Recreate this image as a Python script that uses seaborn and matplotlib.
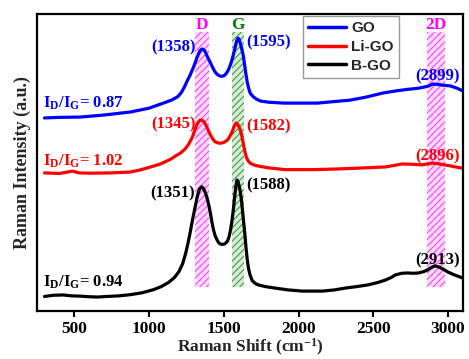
import matplotlib
matplotlib.use("Agg")
import matplotlib.pyplot as plt
from matplotlib.lines import Line2D
import seaborn as sns
import pandas as pd

# Raman spectra (wavenumber in cm^-1, stacked intensity in a.u.)
go_shift = [300, 400, 540, 700, 875, 1000, 1095, 1150, 1190, 1215, 1235, 1255, 1275, 1300,
            1320, 1340, 1350, 1358, 1367, 1375, 1390, 1400, 1410, 1425, 1440, 1455, 1470,
            1485, 1500, 1515, 1530, 1545, 1560, 1572, 1585, 1595, 1603, 1612, 1620, 1630,
            1640, 1648, 1656, 1665, 1676, 1690, 1700, 1720, 1745, 1800, 1900, 2125, 2345,
            2450, 2565, 2650, 2725, 2800, 2860, 2899, 2930, 2970, 3015, 3060, 3100]
go_int = [65.0, 65.2, 65.3, 66.0, 67.0, 68.3, 70.0, 71.0, 72.1, 73.5, 75.3, 77.5, 79.5, 82.5,
          85.3, 87.6, 88.1, 88.2, 87.9, 87.3, 85.6, 84.6, 83.6, 82.0, 80.6, 79.7, 79.2,
          79.0, 79.2, 79.9, 81.1, 83.0, 85.6, 88.0, 90.8, 91.9, 91.4, 89.8, 88.2, 86.0,
          82.5, 79.7, 77.1, 75.2, 73.4, 72.5, 72.0, 71.3, 70.7, 70.3, 70.0, 70.0, 71.0,
          72.0, 73.4, 74.1, 74.6, 75.0, 75.6, 76.4, 76.3, 76.0, 75.8, 75.0, 74.1]

ligo_shift = [300, 400, 487, 530, 600, 750, 875, 940, 1010, 1075, 1140, 1180, 1210, 1240,
              1265, 1290, 1305, 1320, 1335, 1345, 1355, 1365, 1376, 1390, 1400, 1410, 1425,
              1440, 1460, 1475, 1490, 1505, 1525, 1540, 1555, 1568, 1576, 1582, 1590, 1600,
              1608, 1616, 1630, 1643, 1652, 1662, 1676, 1700, 1730, 1800, 1910, 2100, 2245,
              2400, 2580, 2650, 2690, 2760, 2825, 2870, 2896, 2930, 3000, 3050, 3095]
ligo_int = [46.5, 46.3, 47.1, 46.5, 46.4, 46.5, 46.8, 47.5, 48.5, 49.5, 51.0, 52.3, 53.2, 54.5,
            56.2, 58.6, 60.8, 62.8, 64.0, 64.3, 64.2, 63.8, 63.0, 61.5, 60.4, 59.3, 58.0,
            57.0, 56.6, 56.5, 56.6, 56.9, 57.6, 58.8, 60.3, 62.0, 62.9, 63.3, 63.0, 62.2,
            61.2, 59.9, 56.5, 53.2, 51.6, 50.6, 49.8, 49.2, 48.8, 48.2, 47.6, 47.6, 47.8,
            48.1, 48.5, 49.1, 49.5, 49.4, 49.2, 49.6, 49.8, 49.6, 49.0, 48.5, 48.1]

bgo_shift = [300, 360, 425, 480, 540, 600, 655, 720, 800, 875, 950, 1030, 1080, 1130, 1170,
             1200, 1225, 1245, 1260, 1275, 1290, 1305, 1320, 1330, 1340, 1351, 1360, 1370,
             1380, 1390, 1400, 1410, 1420, 1430, 1442, 1455, 1465, 1475, 1490, 1505, 1515,
             1525, 1535, 1545, 1555, 1565, 1572, 1580, 1588, 1595, 1602, 1610, 1618, 1625,
             1632, 1640, 1648, 1656, 1665, 1676, 1690, 1710, 1730, 1780, 1845, 1930, 2025,
             2160, 2240, 2310, 2400, 2465, 2530, 2580, 2620, 2645, 2690, 2730, 2770, 2800,
             2840, 2865, 2890, 2913, 2940, 2970, 3000, 3050, 3100]
bgo_int = [4.9, 5.3, 5.4, 5.1, 5.0, 4.8, 4.7, 4.9, 5.1, 5.5, 6.1, 7.2, 8.2, 9.6, 11.3,
           13.3, 16.0, 19.5, 22.8, 26.5, 30.6, 34.3, 38.0, 40.0, 41.3, 41.8, 41.5, 40.6,
           39.3, 37.6, 35.5, 33.0, 30.0, 27.5, 25.3, 23.9, 23.0, 22.6, 22.4, 22.6, 23.0,
           23.6, 25.0, 27.3, 30.6, 34.8, 38.3, 41.8, 44.1, 43.6, 42.2, 40.2, 37.2, 33.8,
           30.2, 26.2, 21.5, 17.5, 14.3, 12.0, 10.2, 9.3, 8.8, 8.2, 7.7, 7.1, 6.7,
           6.7, 7.1, 7.7, 8.3, 8.8, 9.6, 10.4, 11.3, 12.1, 12.7, 12.8, 12.7, 12.8,
           13.3, 13.9, 14.7, 15.2, 14.8, 14.0, 13.1, 12.0, 11.1]

series_names = ["GO", "Li-GO", "B-GO"]
series_colors = ["#0000ff", "#ff0000", "#000000"]
ratio_labels = ["0.87", "1.02", "0.94"]

# characteristic band windows (cm^-1) and their names
band_names = ["D", "G", "2D"]
band_ranges = [(1310, 1402), (1556, 1636), (2860, 2980)]

# peak positions annotated on each spectrum
go_peaks = [1358, 1595, 2899]
ligo_peaks = [1345, 1582, 2896]
bgo_peaks = [1351, 1588, 2913]

frames = []
for name, xs, ys in [("GO", go_shift, go_int), ("Li-GO", ligo_shift, ligo_int),
                     ("B-GO", bgo_shift, bgo_int)]:
    frames.append(pd.DataFrame({"shift": xs, "intensity": ys, "sample": name}))
df = pd.concat(frames, ignore_index=True)

sns.set_theme(style="white")
plt.rcParams["font.family"] = ["Liberation Serif", "DejaVu Serif"]
plt.rcParams["font.weight"] = "bold"
plt.rcParams["mathtext.fontset"] = "custom"
plt.rcParams["mathtext.rm"] = "Liberation Serif:bold"
plt.rcParams["mathtext.bf"] = "Liberation Serif:bold"
plt.rcParams["mathtext.it"] = "Liberation Serif:bold"
plt.rcParams["hatch.linewidth"] = 0.7

fig = plt.figure(figsize=(4.69, 3.59), dpi=100)
ax = fig.add_axes([0.0789, 0.1337, 0.9083, 0.8273])

# hatched band windows behind the spectra
band_styles = [("#ffd9ff", "#ff33ff"), ("#d6ebd6", "#2f962f"), ("#ffd9ff", "#ff33ff")]
label_colors = ["#ff00ff", "#008000", "#ff00ff"]
for (x0, x1), (fc, hc), lab, lc in zip(band_ranges, band_styles, band_names, label_colors):
    ax.fill_betweenx([8.1, 93.9], x0, x1, facecolor=fc, edgecolor=hc, hatch="/////",
                     linewidth=0, zorder=1)
    ax.text((x0 + x1) / 2, 96.3, lab, color=lc, fontsize=12.5, fontweight="bold",
            ha="center", va="center", zorder=3)

sns.lineplot(data=df, x="shift", y="intensity", hue="sample", hue_order=series_names,
             palette=series_colors, linewidth=2.3, sort=False, estimator=None,
             legend=False, ax=ax, zorder=2)
for ln in ax.lines:
    ln.set_solid_joinstyle("round")

# I_D/I_G ratio captions
ratio_y = [68.4, 48.8, 8.1]
for r, y, c in zip(ratio_labels, ratio_y, series_colors):
    ax.text(293, y, r"I$_\mathbf{D}$/I$_\mathbf{G}$= " + r, color=c, fontsize=12,
            fontweight="bold", ha="left", va="baseline", zorder=3)

# peak position annotations
peak_text_y = [(88.6, 90.6, 79.1), (63.0, 62.0, 52.2), (39.7, 42.4, 17.2)]
for peaks, ys, c in zip([go_peaks, ligo_peaks, bgo_peaks], peak_text_y, series_colors):
    d, g, d2 = peaks
    ax.text(1309, ys[0], f"({d})", color=c, fontsize=12, fontweight="bold",
            ha="right", va="center", zorder=3)
    ax.text(1650, ys[1], f"({g})", color=c, fontsize=12, fontweight="bold",
            ha="left", va="center", zorder=3)
    ax.text(2928, ys[2], f"({d2})", color=c, fontsize=12, fontweight="bold",
            ha="center", va="center", zorder=3)

ax.set_xlim(250, 3100)
ax.set_ylim(0, 100)
ax.set_xticks([500, 1000, 1500, 2000, 2500, 3000])
ax.set_yticks([])
ax.tick_params(axis="x", direction="out", length=4, width=1.5, colors="black",
               labelsize=12.5, pad=3, bottom=True)
for lbl in ax.get_xticklabels():
    lbl.set_fontweight("bold")
for s in ax.spines.values():
    s.set_linewidth(1.6)
    s.set_color("black")

ax.set_xlabel(r"Raman Shift (cm$^{\mathbf{-1}}$)", fontsize=12.5, fontweight="bold",
              labelpad=0)
ax.set_ylabel("Raman Intensity (a.u.)", fontsize=13, fontweight="bold")
ax.yaxis.set_label_coords(-0.014, 0.5)

handles = [Line2D([0], [0], color=c, lw=2.5) for c in series_colors]
leg = ax.legend(handles, series_names, loc="upper left", bbox_to_anchor=(0.624, 0.993),
                borderaxespad=0, frameon=True, fancybox=False, handlelength=2.5,
                handletextpad=0.3, labelspacing=0.3, borderpad=0.35,
                prop={"family": "Liberation Sans", "weight": "bold", "size": 11})
leg.get_frame().set_edgecolor("#808080")
leg.get_frame().set_linewidth(1.0)
leg.set_zorder(4)

fig.savefig("out.png", dpi=100)
